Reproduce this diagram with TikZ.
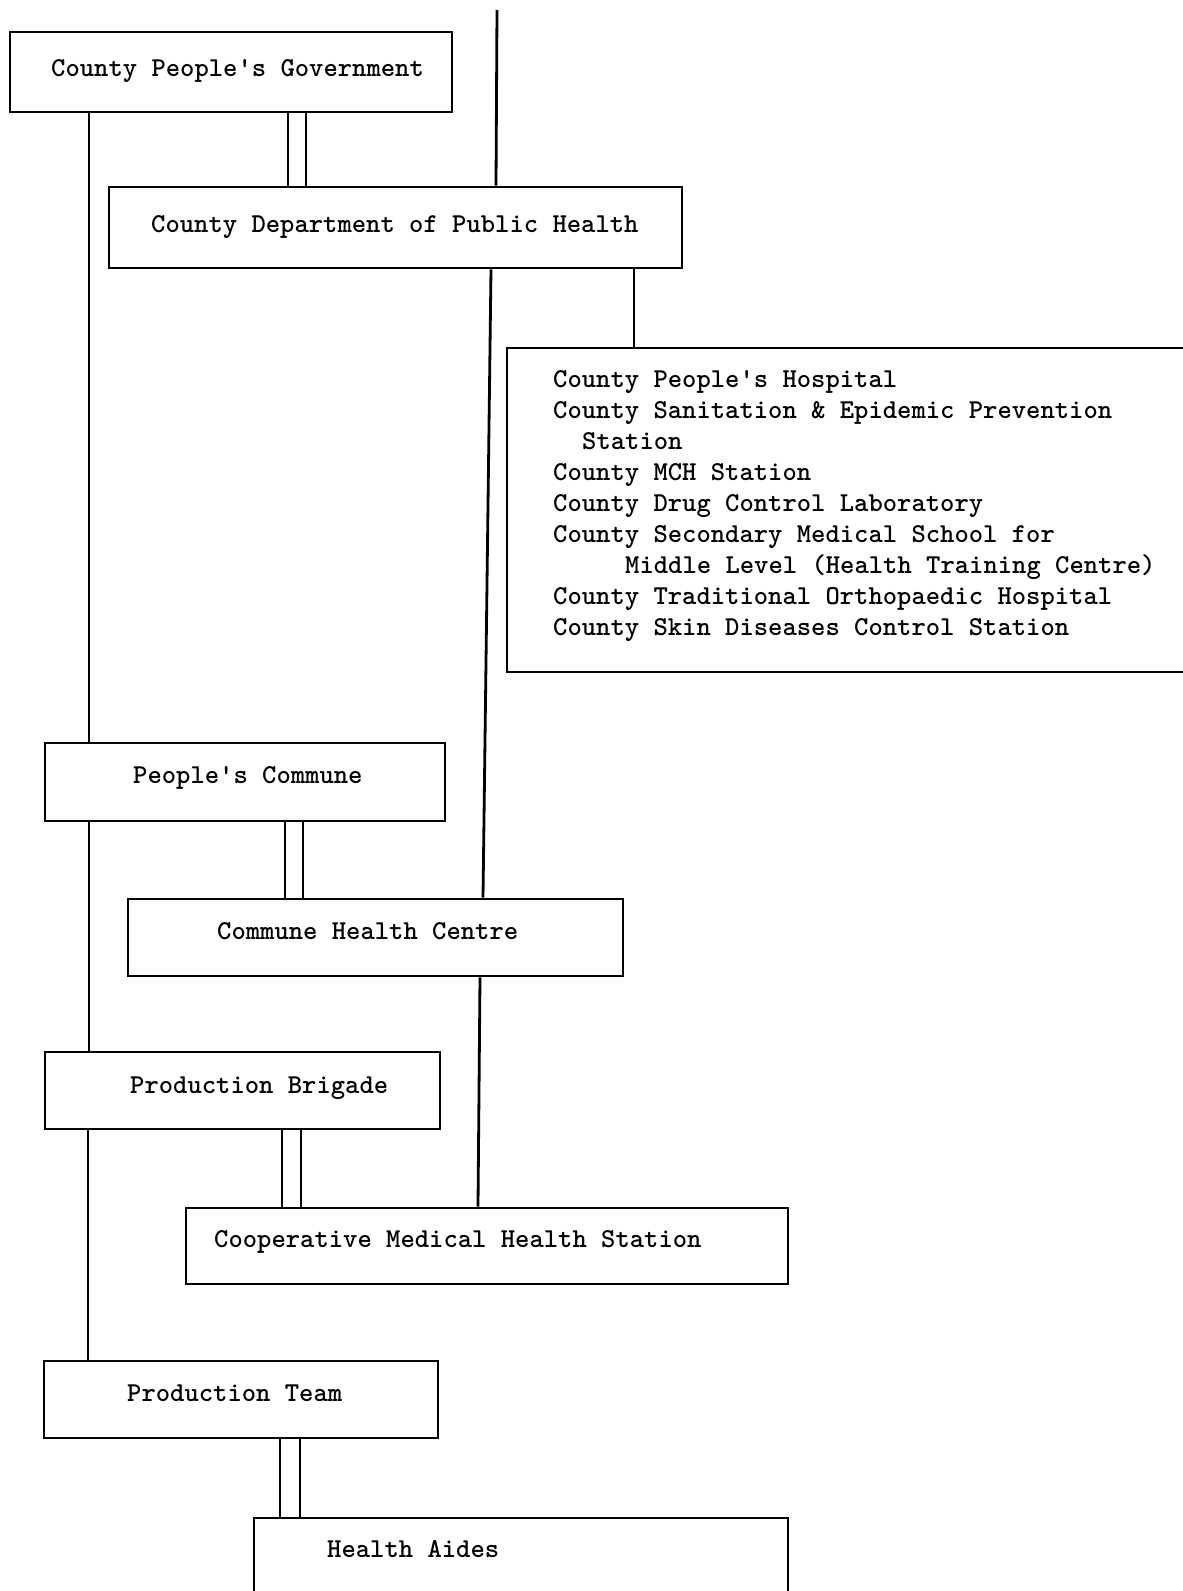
\documentclass[tikz,border=0pt]{standalone}
\usepackage{fontspec}
\newfontfamily\tw{lmmonolt10-bold.otf}
\begin{document}
\begin{tikzpicture}[x=1pt,y=-1pt,
  box/.style={draw, rectangle, inner sep=0pt, line width=2.8pt},
  lbl/.style={anchor=base west, inner sep=0pt, font=\tw\fontsize{27.3}{31}\selectfont},
  link/.style={line width=2.8pt}]
\useasboundingbox (0,0) rectangle (1183,1591);
% boxes
\node[box, minimum width=442, minimum height=80] (gov) at (231,72) {};
\node[box, minimum width=573, minimum height=81] (dept) at (395.5,227.5) {};
\node[box, minimum width=683, minimum height=324] (big) at (848.5,510) {};
\node[box, minimum width=400, minimum height=78] (commune) at (245,782) {};
\node[box, minimum width=495, minimum height=77] (chc) at (375.5,937.5) {};
\node[box, minimum width=395, minimum height=77] (brigade) at (242.5,1090.5) {};
\node[box, minimum width=602, minimum height=76] (coop) at (487,1246) {};
\node[box, minimum width=394, minimum height=77] (team) at (241,1399.5) {};
\node[box, minimum width=534, minimum height=92] (aides) at (521,1564) {};
% labels
\node[lbl] (govt) at (51,76) {County People's Government};
\node[lbl] (deptt) at (151,232) {County Department of Public Health};
\node[lbl] (l1) at (553,387) {County People's Hospital};
\node[lbl] (l2) at (553,418) {County Sanitation \& Epidemic Prevention};
\node[lbl] (l3) at (582,449) {Station};
\node[lbl] (l4) at (553,480) {County MCH Station};
\node[lbl] (l5) at (553,511) {County Drug Control Laboratory};
\node[lbl] (l6) at (553,542) {County Secondary Medical School for};
\node[lbl] (l7) at (625,573) {Middle Level (Health Training Centre)};
\node[lbl] (l8) at (553,604) {County Traditional Orthopaedic Hospital};
\node[lbl] (l9) at (553,635) {County Skin Diseases Control Station};
\node[lbl] (communet) at (133,783) {People's Commune};
\node[lbl] (chct) at (217,939) {Commune Health Centre};
\node[lbl] (brigadet) at (130,1093) {Production Brigade};
\node[lbl] (coopt) at (214,1247) {Cooperative Medical Health Station};
\node[lbl] (teamt) at (127,1401) {Production Team};
\node[lbl] (aidest) at (327,1557) {Health Aides};
% connectors
\coordinate (top) at (497,10);
\draw[link] (top) -- (dept.north -| 496,0);
\draw[link] (gov.south -| 89,0) -- (commune.north -| 89,0);
\draw[link] (gov.south -| 288,0) -- (dept.north -| 288,0);
\draw[link] (gov.south -| 306,0) -- (dept.north -| 306,0);
\draw[link] (dept.south -| 634,0) -- (big.north -| 634,0);
\draw[link] (dept.south -| 491,0) -- (chc.north -| 483,0);
\draw[link] (commune.south -| 89,0) -- (brigade.north -| 89,0);
\draw[link] (commune.south -| 285,0) -- (chc.north -| 285,0);
\draw[link] (commune.south -| 303,0) -- (chc.north -| 303,0);
\draw[link] (chc.south -| 480,0) -- (coop.north -| 478,0);
\draw[link] (brigade.south -| 88,0) -- (team.north -| 88,0);
\draw[link] (brigade.south -| 282,0) -- (coop.north -| 282,0);
\draw[link] (brigade.south -| 301,0) -- (coop.north -| 301,0);
\draw[link] (team.south -| 280,0) -- (aides.north -| 280,0);
\draw[link] (team.south -| 300,0) -- (aides.north -| 300,0);
\end{tikzpicture}
\end{document}
